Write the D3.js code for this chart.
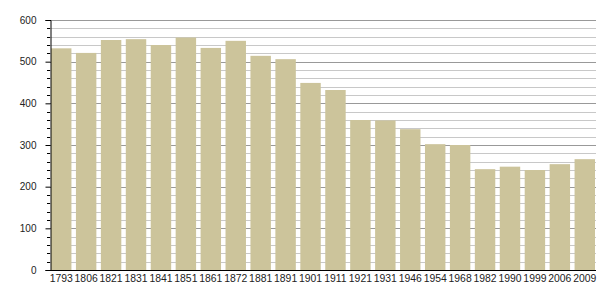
<!DOCTYPE html>
<html>
<head>
<meta charset="utf-8">
<script src="https://cdn.jsdelivr.net/npm/d3@7"></script>
<style>
  body { margin: 0; background: #fff; }
  text { font-family: "Liberation Sans", Arial, sans-serif; font-size: 10px; fill: #222; }
</style>
</head>
<body>
<div id="chart"></div>
<script>
// population by census year
const years = ["1793", "1806", "1821", "1831", "1841", "1851", "1861", "1872", "1881", "1891", "1901",
  "1911", "1921", "1931", "1946", "1954", "1968", "1982", "1990", "1999", "2006", "2009"];
const population = [532, 521, 552, 554, 540, 558, 533, 550, 514, 506, 449,
  432, 360, 359, 338, 302, 300, 242, 248, 240, 254, 266];
const majorTicks = [0, 100, 200, 300, 400, 500, 600];

const width = 605, height = 300;
const margin = { top: 20, right: 9, bottom: 30, left: 50 };

const svg = d3.select("#chart").append("svg")
  .attr("width", width)
  .attr("height", height);

const x = d3.scaleBand()
  .domain(years)
  .range([margin.left, width - margin.right])
  .paddingInner(0.18)
  .paddingOuter(0.04);

const y = d3.scaleLinear()
  .domain([0, 600])
  .range([height - margin.bottom, margin.top]);

const minorTicks = d3.range(0, 601, 20).filter(d => d % 100 !== 0);

// grid lines
svg.append("g").selectAll("line.minor")
  .data(minorTicks)
  .enter().append("line")
  .attr("x1", margin.left).attr("x2", width - margin.right)
  .attr("y1", d => Math.round(y(d)) + 0.5).attr("y2", d => Math.round(y(d)) + 0.5)
  .attr("stroke", "#c8c8c8");

svg.append("g").selectAll("line.major")
  .data(majorTicks.filter(d => d > 0))
  .enter().append("line")
  .attr("x1", margin.left).attr("x2", width - margin.right)
  .attr("y1", d => Math.round(y(d)) + 0.5).attr("y2", d => Math.round(y(d)) + 0.5)
  .attr("stroke", "#999");

// bars
svg.selectAll(".bar")
  .data(population)
  .enter().append("rect")
  .attr("class", "bar")
  .attr("x", (d, i) => x(years[i]))
  .attr("y", d => y(d))
  .attr("width", x.bandwidth())
  .attr("height", d => y(0) - y(d))
  .attr("fill", "#ccc49b");

// y axis with minor ticks
svg.append("g")
  .attr("transform", `translate(${margin.left},0)`)
  .selectAll("line")
  .data(minorTicks)
  .enter().append("line")
  .attr("x1", -3).attr("x2", 0)
  .attr("y1", d => Math.round(y(d)) + 0.5).attr("y2", d => Math.round(y(d)) + 0.5)
  .attr("stroke", "#000");

const yAxis = svg.append("g")
  .attr("transform", `translate(${margin.left + 0.5},0)`)
  .call(d3.axisLeft(y).tickValues(majorTicks).tickSize(5).tickPadding(9));
yAxis.select(".domain").attr("stroke", "#000");
yAxis.selectAll("text").style("font-size", "10px").attr("fill", "#222")
  .style("font-family", "Liberation Sans, Arial, sans-serif");

// x axis
const xAxis = svg.append("g")
  .attr("transform", `translate(0,${y(0) + 0.5})`)
  .call(d3.axisBottom(x).tickSize(0).tickPadding(4));
xAxis.select(".domain").attr("stroke", "#000")
  .attr("d", `M${margin.left},0H${width - margin.right}`);
xAxis.selectAll("text").style("font-size", "10.4px").attr("fill", "#222")
  .style("font-family", "Liberation Sans, Arial, sans-serif");
</script>
</body>
</html>
